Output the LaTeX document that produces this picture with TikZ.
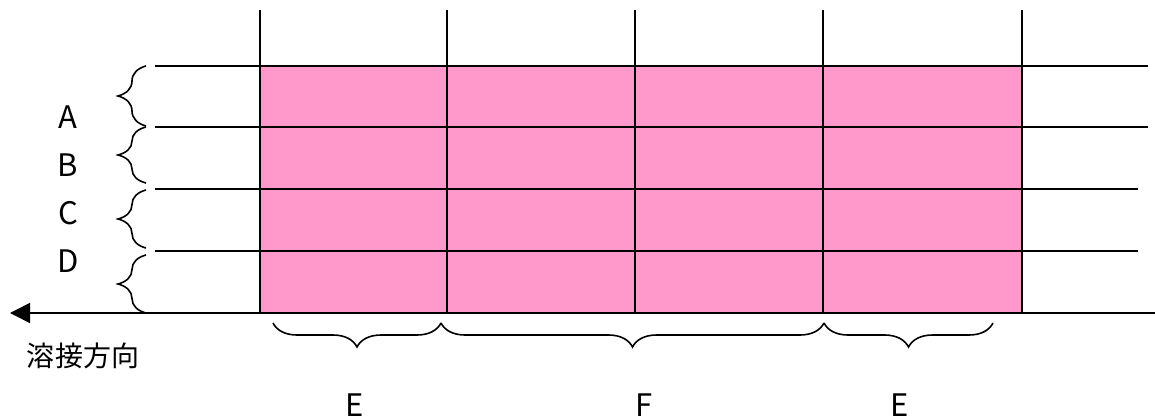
\documentclass[tikz,border=0pt]{standalone}
\usepackage{fontspec}
\setmainfont{Noto Sans CJK JP}
\usetikzlibrary{decorations.pathreplacing,arrows.meta}
\definecolor{weldpink}{RGB}{255,153,204}

\tikzset{
  gridline/.style={line width=1.6pt},
  bracket/.style={decorate,decoration={brace,amplitude=#1},line width=1.6pt},
  letter/.style={font=\fontsize{31}{31}\selectfont,inner sep=0pt},
  caption/.style={font=\fontsize{28}{28}\selectfont,inner sep=0pt}
}

\begin{document}
\begin{tikzpicture}[x=1pt,y=-1pt]
  \useasboundingbox (0,0) rectangle (1155,419);
  % welded area
  \fill[weldpink] (260,66) rectangle (1022,313);
  % grid
  \foreach \x in {260,447,635,823,1022}
    \draw[gridline] (\x,10) -- (\x,313);
  \foreach \y/\r in {66/1148,127/1148,189/1138,251/1138}
    \draw[gridline] (155,\y) -- (\r,\y);
  % welding direction
  \coordinate (axisend) at (1155,313);
  \coordinate (tip) at (10,313);
  \draw[gridline,-{Triangle[length=20pt,width=20pt]}] (axisend) -- (tip);
  \node[caption] (dir) at (83,356) {溶接方向};
  % layer braces
  \foreach \a/\b/\n in {126/66/A,183/127/B,248/190/C,313/255/D}{
    \coordinate (\n lo) at (146,\a);
    \coordinate (\n hi) at (146,\b);
    \draw[bracket=28pt] (\n lo) -- (\n hi);
  }
  \node[letter] (lA) at (68,117) {A};
  \node[letter] (lB) at (68,165) {B};
  \node[letter] (lC) at (68,213) {C};
  \node[letter] (lD) at (68,261) {D};
  % zone braces
  \coordinate (z0) at (273,323);
  \coordinate (z1) at (441,323);
  \coordinate (z2) at (824,323);
  \coordinate (z3) at (993,323);
  \draw[bracket=24pt] (z1) -- (z0);
  \draw[bracket=24pt] (z2) -- (z1);
  \draw[bracket=24pt] (z3) -- (z2);
  \node[letter] (e1) at (355,405) {E};
  \node[letter] (f1) at (644,405) {F};
  \node[letter] (e2) at (900,405) {E};
\end{tikzpicture}
\end{document}
